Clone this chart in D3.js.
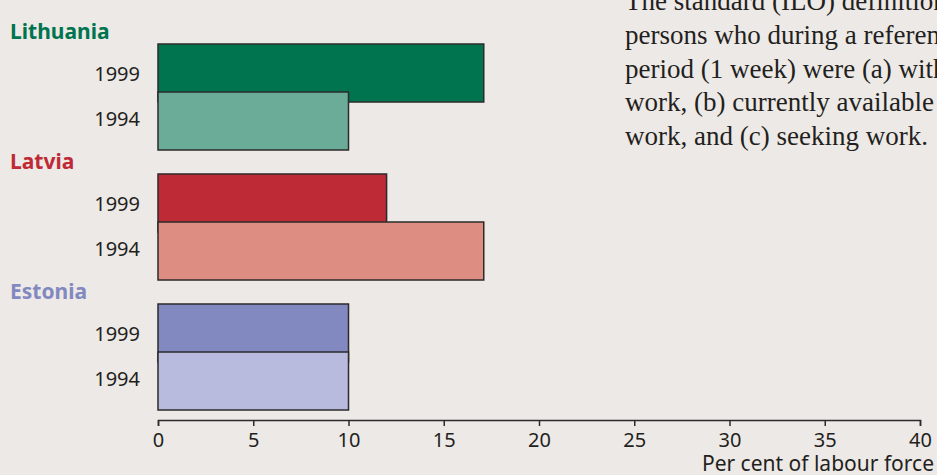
<!DOCTYPE html>
<html>
<head>
<meta charset="utf-8">
<script src="https://cdn.jsdelivr.net/npm/d3@7"></script>
<style>
  html, body { margin: 0; padding: 0; background: #EDE9E6; }
  svg { display: block; }
</style>
</head>
<body>
<svg id="chart" width="937" height="475"></svg>
<script>
// ---- data ----
const countries = ["Lithuania", "Latvia", "Estonia"];
const years = ["1999", "1994"];
const values1999 = [17.1, 12.0, 10.0];
const values1994 = [10.0, 17.1, 10.0];
const countryColors = ["#00744F", "#BE2A36", "#8288C0"];
const colors1999 = ["#00744F", "#BE2A36", "#8288C0"];
const colors1994 = ["#6AAC98", "#DE8D82", "#B8BBDD"];
const xTicks = [0, 5, 10, 15, 20, 25, 30, 35, 40];
const xTitle = "Per cent of labour force";
const noteLines = [
  "The standard (ILO) definition of unemployed",
  "persons who during a reference",
  "period (1 week) were (a) without",
  "work, (b) currently available for",
  "work, and (c) seeking work."
];

// ---- layout ----
const svg = d3.select("#chart");
const W = 937, H = 475;
svg.append("rect").attr("width", W).attr("height", H).attr("fill", "#EDE9E6");

const x = d3.scaleLinear().domain([0, 40]).range([158, 920]);
const yGroup = d3.scaleBand().domain(countries).range([44, 44 + 3 * 130]);
const yYear = d3.scalePoint().domain(years).range([0, 48]);
const barH = 58;
const sans = "'Noto Sans', 'Open Sans', sans-serif";

const rows = [];
countries.forEach((c, i) => {
  rows.push({country: c, year: "1999", value: values1999[i], fill: colors1999[i]});
  rows.push({country: c, year: "1994", value: values1994[i], fill: colors1994[i]});
});

// bars (1999 first, 1994 drawn over it)
svg.append("g").selectAll("rect").data(rows).join("rect")
  .attr("x", x(0))
  .attr("y", d => yGroup(d.country) + yYear(d.year))
  .attr("width", d => x(d.value) - x(0))
  .attr("height", barH)
  .attr("fill", d => d.fill)
  .attr("stroke", "#2b2b2b")
  .attr("stroke-width", 1.5);

// year labels
const yearLabelOffset = {"1999": 30, "1994": 75};
svg.append("g").selectAll("text").data(rows).join("text")
  .attr("x", 140)
  .attr("y", d => yGroup(d.country) + yearLabelOffset[d.year])
  .attr("dy", "0.36em")
  .attr("text-anchor", "end")
  .attr("font-family", sans)
  .attr("font-size", 20)
  .attr("fill", "#231F20")
  .text(d => d.year);

// country labels
svg.append("g").selectAll("text").data(countries).join("text")
  .attr("x", 10)
  .attr("y", d => yGroup(d) - 5)
  .attr("font-family", sans)
  .attr("font-weight", "bold")
  .attr("font-size", 21)
  .attr("fill", (d, i) => countryColors[i])
  .text(d => d);

// x axis
const axis = svg.append("g")
  .attr("transform", "translate(0,420)")
  .call(d3.axisBottom(x).tickValues(xTicks).tickSize(6).tickSizeOuter(6).tickPadding(7));
axis.select(".domain").attr("stroke", "#2b2b2b").attr("stroke-width", 1.5);
axis.selectAll(".tick line").attr("stroke", "#2b2b2b").attr("stroke-width", 1.5);
axis.selectAll(".tick text")
  .attr("font-family", sans)
  .attr("font-size", 20)
  .attr("fill", "#231F20");

svg.append("text")
  .attr("x", 934)
  .attr("y", 471)
  .attr("text-anchor", "end")
  .attr("font-family", sans)
  .attr("font-size", 21)
  .attr("fill", "#231F20")
  .text(xTitle);

// side note (serif)
svg.append("g").selectAll("text").data(noteLines).join("text")
  .attr("x", 625)
  .attr("y", (d, i) => 10 + i * 33.8)
  .attr("font-family", "'Liberation Serif', 'DejaVu Serif', serif")
  .attr("font-size", 27)
  .attr("fill", "#231F20")
  .text(d => d);
</script>
</body>
</html>
